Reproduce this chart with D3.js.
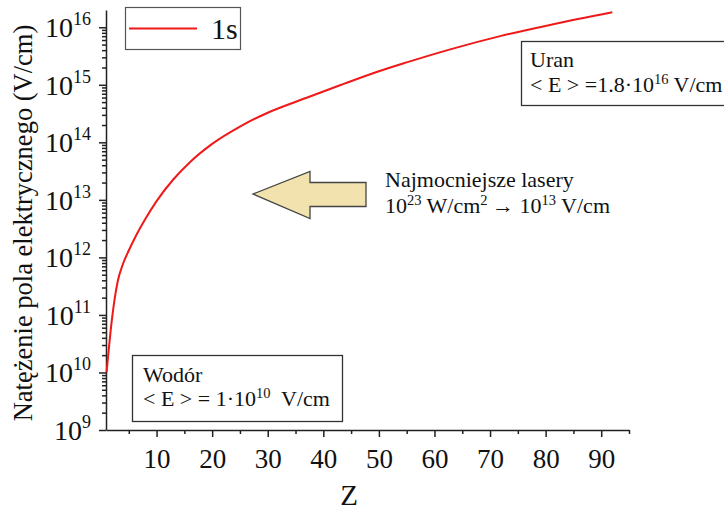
<!DOCTYPE html>
<html>
<head>
<meta charset="utf-8">
<script src="https://cdn.jsdelivr.net/npm/d3@7"></script>
<style>
  body { margin: 0; background: #fff; }
  svg text { font-family: "Liberation Serif", "Times New Roman", "DejaVu Serif", serif !important; fill: #111; }
</style>
</head>
<body>
<script>
// dane: średnie pole elektryczne stanu 1s w funkcji Z
const Z = [1, 2, 3, 4, 5, 6, 8, 10, 13, 16, 20, 25, 30, 37, 43, 50, 55, 63, 72, 81, 92]
const E1s = [1.0e10, 8.9e10, 3.8e11, 7.9e11, 1.32e12, 2.09e12, 4.68e12, 9.5e12, 2.26e13, 4.52e13,
  9.4e13, 1.88e14, 3.27e14, 5.94e14, 9.8e14, 1.72e15, 2.45e15, 4.17e15, 7.08e15, 1.11e16, 1.82e16]

const xTicks = [10, 20, 30, 40, 50, 60, 70, 80, 90]
const xMinor = [5, 15, 25, 35, 45, 55, 65, 75, 85, 95]
const yExp = [9, 10, 11, 12, 13, 14, 15, 16]

const FONT = "Liberation Serif"

const svg = d3.select("body").append("svg").attr("width", 724).attr("height", 511)
  .attr("font-family", FONT)

const x = d3.scaleLinear().domain([0.9, 95]).range([106, 629])
const y = d3.scaleLog().domain([1e9, Math.pow(10, 16.3)]).range([430, 10])

// oś X
const gx = svg.append("g").attr("transform", "translate(0,430)")
gx.call(d3.axisBottom(x).tickValues(xTicks).tickSize(7).tickSizeOuter(0).tickFormat(d => d))
gx.append("g").call(d3.axisBottom(x).tickValues(xMinor).tickSize(4).tickSizeOuter(0).tickFormat(""))
  .select(".domain").remove()
gx.attr("font-family", FONT)
gx.selectAll("path, line").attr("stroke", "#222").attr("stroke-width", 1.5)
gx.selectAll(".tick text").attr("font-size", 27).attr("font-family", FONT)
  .attr("fill", "#111").attr("dy", "1.05em")

// oś Y
const yMinor = []
yExp.forEach(e => { for (let m = 2; m <= 9; m++) { const v = m * Math.pow(10, e); if (v <= y.domain()[1]) yMinor.push(v) } })
const gy = svg.append("g").attr("transform", "translate(106,0)")
gy.call(d3.axisLeft(y).tickValues(yExp.map(e => Math.pow(10, e))).tickSize(7).tickSizeOuter(0).tickFormat(""))
gy.append("g").call(d3.axisLeft(y).tickValues(yMinor).tickSize(4).tickSizeOuter(0).tickFormat(""))
  .select(".domain").remove()
gy.selectAll("path, line").attr("stroke", "#222").attr("stroke-width", 1.5)

const yl = svg.append("g").selectAll("text").data(yExp).join("text")
  .attr("x", 91).attr("y", d => y(Math.pow(10, d)) + 10)
  .attr("text-anchor", "end").attr("font-size", 28)
yl.append("tspan").text("10")
yl.append("tspan").attr("dy", -12).attr("font-size", 18).text(d => d)

// krzywa 1s
const line = d3.line().x((d, i) => x(Z[i])).y(d => y(d)).curve(d3.curveMonotoneX)
svg.append("path").datum(E1s).attr("d", line)
  .attr("fill", "none").attr("stroke", "#f01818").attr("stroke-width", 2)

// etykiety osi
svg.append("text").attr("transform", "translate(32,223) rotate(-90)")
  .attr("text-anchor", "middle").attr("font-size", 26.5)
  .text("Natężenie pola elektrycznego (V/cm)")
svg.append("text").attr("x", 349).attr("y", 505).attr("text-anchor", "middle")
  .attr("font-size", 29).text("Z")

// legenda
svg.append("rect").attr("x", 125.5).attr("y", 7.5).attr("width", 115).attr("height", 42)
  .attr("fill", "#fff").attr("stroke", "#555").attr("stroke-width", 1.2)
svg.append("line").attr("x1", 129).attr("x2", 197).attr("y1", 28.5).attr("y2", 28.5)
  .attr("stroke", "#f01818").attr("stroke-width", 2)
svg.append("text").attr("x", 211).attr("y", 39).attr("font-size", 30).text("1s")

// ramka: wodór
svg.append("rect").attr("x", 132.5).attr("y", 355.5).attr("width", 210).attr("height", 66)
  .attr("fill", "#fff").attr("stroke", "#333").attr("stroke-width", 1.3)
svg.append("text").attr("x", 143).attr("y", 382).attr("font-size", 22).text("Wodór")
const th = svg.append("text").attr("x", 143).attr("y", 406).attr("font-size", 22)
th.append("tspan").text("< E > = 1·10")
th.append("tspan").attr("dy", -8).attr("font-size", 14.5).text("10")
th.append("tspan").attr("dy", 8).text("\u00a0 V/cm")

// ramka: uran
svg.append("rect").attr("x", 521.5).attr("y", 41.5).attr("width", 210).attr("height", 64)
  .attr("fill", "#fff").attr("stroke", "#333").attr("stroke-width", 1.3)
svg.append("text").attr("x", 530).attr("y", 67).attr("font-size", 22).text("Uran")
const tu = svg.append("text").attr("x", 530).attr("y", 92).attr("font-size", 22)
tu.append("tspan").text("< E > =1.8·10")
tu.append("tspan").attr("dy", -8).attr("font-size", 14.5).text("16")
tu.append("tspan").attr("dy", 8).text(" V/cm")

// strzałka
const arrow = [[253, 194], [310, 171.5], [310, 182.5], [366, 182.5], [366, 206.5], [310, 206.5], [310, 218.5]]
svg.append("path").attr("d", d3.line()(arrow) + "Z")
  .attr("fill", "#f2e3ae").attr("stroke", "#444").attr("stroke-width", 1.3)
svg.append("text").attr("x", 385).attr("y", 187).attr("font-size", 22).text("Najmocniejsze lasery")
const tl = svg.append("text").attr("x", 385).attr("y", 213).attr("font-size", 22)
tl.append("tspan").text("10")
tl.append("tspan").attr("dy", -8).attr("font-size", 14.5).text("23")
tl.append("tspan").attr("dy", 8).text(" W/cm")
tl.append("tspan").attr("dy", -8).attr("font-size", 14.5).text("2")
tl.append("tspan").attr("dy", 8).text("\u2009→ 10")
tl.append("tspan").attr("dy", -8).attr("font-size", 14.5).text("13")
tl.append("tspan").attr("dy", 8).text(" V/cm")
</script>
</body>
</html>
